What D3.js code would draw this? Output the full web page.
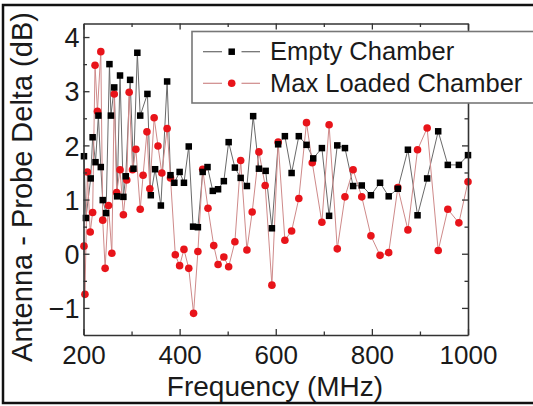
<!DOCTYPE html>
<html>
<head>
<meta charset="utf-8">
<script src="https://cdn.jsdelivr.net/npm/d3@7"></script>
<style>
  html, body { margin: 0; padding: 0; background: #fff; }
  svg { display: block; }
  text { font-family: "Liberation Sans", Arial, sans-serif; fill: #1a1a1a; }
</style>
</head>
<body>
<svg id="chart" width="533" height="406"></svg>
<script>
// ---- data ----
const emptyFreq = [201, 205, 215, 219, 225, 231, 236, 240, 247, 254, 257, 264, 270, 276, 283, 288, 297, 304, 312, 318, 333, 340, 349, 361, 374, 381, 389, 400, 409, 419, 428, 438, 448, 458, 469, 480, 492, 502, 515, 527, 540, 553, 565, 579, 592, 605, 619, 633, 648, 664, 678, 696, 711, 728, 744, 761, 779, 798, 817, 835, 854, 875, 895, 915, 938, 958, 981, 1000];
const emptyDelta = [1.80, 0.66, 1.39, 2.15, 1.69, 2.55, 1.60, 0.99, 0.75, 3.50, 2.55, 3.07, 1.06, 3.29, 1.05, 1.43, 3.21, 1.57, 3.71, 2.55, 2.95, 1.08, 1.56, 0.89, 3.18, 1.45, 1.31, 1.51, 1.31, 1.98, 0.50, 0.49, 1.51, 1.60, 1.16, 1.19, 1.34, 2.06, 1.59, 1.40, 1.25, 2.54, 1.57, 1.53, 0.47, 2.02, 2.17, 1.49, 2.17, 2.01, 1.76, 1.95, 0.70, 2.00, 1.95, 1.25, 1.26, 1.08, 1.31, 1.06, 1.20, 1.92, 0.71, 1.39, 2.26, 1.64, 1.64, 1.82];

const loadedFreq = [201, 203, 208, 214, 219, 224, 229, 236, 240, 245, 252, 259, 264, 269, 276, 283, 290, 295, 302, 309, 318, 324, 332, 338, 347, 355, 363, 374, 381, 391, 400, 409, 419, 429, 438, 448, 459, 471, 480, 492, 502, 515, 527, 540, 551, 565, 578, 592, 605, 619, 633, 648, 664, 676, 696, 711, 728, 744, 761, 779, 798, 817, 835, 854, 875, 895, 915, 938, 958, 981, 1000];
const loadedDelta = [0.14, -0.75, 1.51, 0.40, 0.76, 3.48, 2.63, 3.73, 0.62, -0.27, 0.89, 0.01, 2.95, 1.13, 1.55, 0.72, 1.36, 2.98, 1.55, 1.93, 0.82, 1.45, 2.25, 1.20, 2.51, 1.99, 1.49, 2.31, 1.40, -0.02, -0.22, 0.08, -0.27, -1.10, 0.04, 1.56, 0.84, 0.15, -0.20, -0.06, -0.24, 0.22, 1.72, 0.07, 0.77, 1.88, 1.26, -0.58, 2.06, 0.25, 0.42, 1.02, 2.42, 1.68, 0.58, 2.38, 0.09, 1.05, 1.55, 1.05, 0.33, -0.03, 0.02, 1.22, 0.44, 1.92, 2.32, 0.06, 0.82, 0.57, 1.33];

const xMajorTicks = [200, 400, 600, 800, 1000];
const xMinorTicks = [300, 500, 700, 900];
const yMajorTicks = [-1, 0, 1, 2, 3, 4];
const yMinorTicks = [-0.5, 0.5, 1.5, 2.5, 3.5];
const seriesNames = ["Empty Chamber", "Max Loaded Chamber"];
const xTitle = "Frequency (MHz)";
const yTitle = "Antenna - Probe Delta (dB)";

// ---- layout ----
const svg = d3.select("#chart");
const L = 83.5, R = 468, T = 23.5, B = 335;
const x = d3.scaleLinear().domain([200, 1000]).range([L, R]);
const y = d3.scaleLinear().domain([-1.5, 4.25]).range([B, T]);
const axisColor = "#333";

// outer frame of the figure
svg.append("rect").attr("x", 3).attr("y", 5).attr("width", 532).attr("height", 398)
  .attr("fill", "none").attr("stroke", "#111").attr("stroke-width", 2.5);

const empty = emptyFreq.map((f, i) => ({ f, v: emptyDelta[i] }));
const loaded = loadedFreq.map((f, i) => ({ f, v: loadedDelta[i] }));

const line = d3.line().x(d => x(d.f)).y(d => y(d.v));

const plot = svg.append("g");
plot.append("path").datum(empty).attr("d", line)
  .attr("fill", "none").attr("stroke", "#6a6a6a").attr("stroke-width", 1);
plot.append("path").datum(loaded).attr("d", line)
  .attr("fill", "none").attr("stroke", "#cf8a8a").attr("stroke-width", 1);

plot.selectAll("circle.ld").data(loaded).enter().append("circle")
  .attr("class", "ld").attr("cx", d => x(d.f)).attr("cy", d => y(d.v))
  .attr("r", 3.8).attr("fill", "#e8141a");
const sq = 6.5;
plot.selectAll("rect.em").data(empty).enter().append("rect")
  .attr("class", "em").attr("x", d => x(d.f) - sq / 2).attr("y", d => y(d.v) - sq / 2)
  .attr("width", sq).attr("height", sq).attr("fill", "#000");

// axes (ticks inward)
function styleAxis(g) {
  g.selectAll("path.domain").attr("stroke", axisColor).attr("stroke-width", 1.6);
  g.selectAll(".tick line").attr("stroke", axisColor).attr("stroke-width", 1.3);
}
const fontTick = 26;

const gB = svg.append("g").attr("transform", `translate(0,${B})`)
  .call(d3.axisBottom(x).tickValues(xMajorTicks).tickSizeInner(-6).tickSizeOuter(0).tickPadding(11).tickFormat(d3.format("d")));
gB.call(styleAxis);
gB.selectAll("text").attr("font-size", fontTick).attr("fill", "#1a1a1a").attr("dy", "0.71em");
svg.append("g").attr("transform", `translate(0,${B})`)
  .call(d3.axisBottom(x).tickValues(xMinorTicks).tickSizeInner(-3.5).tickSizeOuter(0).tickFormat(""))
  .call(styleAxis).select("path.domain").remove();

const gT = svg.append("g").attr("transform", `translate(0,${T})`)
  .call(d3.axisTop(x).tickValues(xMajorTicks).tickSizeInner(-6).tickSizeOuter(0).tickFormat(""));
gT.call(styleAxis);
svg.append("g").attr("transform", `translate(0,${T})`)
  .call(d3.axisTop(x).tickValues(xMinorTicks).tickSizeInner(-3.5).tickSizeOuter(0).tickFormat(""))
  .call(styleAxis).select("path.domain").remove();

const gL = svg.append("g").attr("transform", `translate(${L},0)`)
  .call(d3.axisLeft(y).tickValues(yMajorTicks).tickSizeInner(-6).tickSizeOuter(0).tickPadding(4).tickFormat(d3.format("d")));
gL.call(styleAxis);
gL.selectAll("text").attr("font-size", 27).attr("fill", "#1a1a1a").attr("dy", "0.36em");
svg.append("g").attr("transform", `translate(${L},0)`)
  .call(d3.axisLeft(y).tickValues(yMinorTicks).tickSizeInner(-3.5).tickSizeOuter(0).tickFormat(""))
  .call(styleAxis).select("path.domain").remove();

const gR = svg.append("g").attr("transform", `translate(${R},0)`)
  .call(d3.axisRight(y).tickValues(yMajorTicks).tickSizeInner(-6).tickSizeOuter(0).tickFormat(""));
gR.call(styleAxis);
svg.append("g").attr("transform", `translate(${R},0)`)
  .call(d3.axisRight(y).tickValues(yMinorTicks).tickSizeInner(-3.5).tickSizeOuter(0).tickFormat(""))
  .call(styleAxis).select("path.domain").remove();

// axis titles
svg.append("text").attr("x", 275).attr("y", 396).attr("text-anchor", "middle")
  .attr("font-size", 28).text(xTitle);
svg.append("text").attr("transform", "translate(32,187) rotate(-90)").attr("text-anchor", "middle")
  .attr("font-size", 29).text(yTitle);

// legend
const lg = svg.append("g");
lg.append("rect").attr("x", 192).attr("y", 31.5).attr("width", 360).attr("height", 71.5)
  .attr("fill", "#fff").attr("stroke", "#777").attr("stroke-width", 1.6);
const rows = [51.7, 83.3];
rows.forEach((ry, i) => {
  const col = i === 0 ? "#6a6a6a" : "#cf8a8a";
  [[203, 222], [241.5, 260]].forEach(([a, b]) => {
    lg.append("line").attr("x1", a).attr("x2", b).attr("y1", ry).attr("y2", ry)
      .attr("stroke", col).attr("stroke-width", 1.2);
  });
  if (i === 0) {
    lg.append("rect").attr("x", 231.7 - sq / 2).attr("y", ry - sq / 2).attr("width", sq).attr("height", sq).attr("fill", "#000");
  } else {
    lg.append("circle").attr("cx", 231.7).attr("cy", ry).attr("r", 3.8).attr("fill", "#e8141a");
  }
  lg.append("text").attr("x", 270).attr("y", ry + 8.5).attr("font-size", 25.5).text(seriesNames[i]);
});
</script>
</body>
</html>
